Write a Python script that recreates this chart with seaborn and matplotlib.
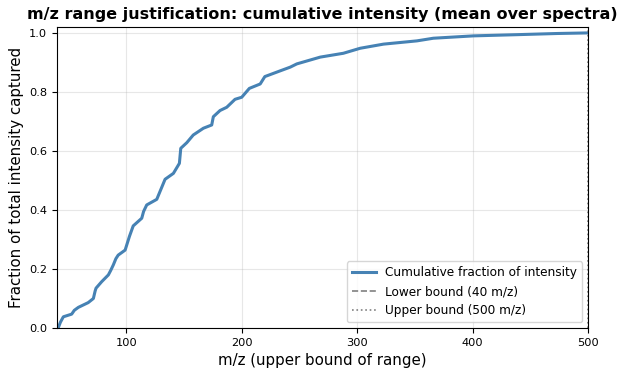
import matplotlib
matplotlib.use("Agg")
import matplotlib.pyplot as plt
import seaborn as sns
import pandas as pd

# cumulative intensity curve
mz = [40, 41, 43, 45.5, 52.7, 55, 58.5, 67, 71.5, 73, 73.8, 78.7, 84.5, 86.5, 88.8,
      91, 93, 99, 102.7, 106, 113.4, 115, 117.7, 126.4, 130, 133.6, 140.8, 146,
      147.2, 152.4, 158, 166.8, 174, 175.4, 181.2, 187, 194.2, 200, 206.6, 216,
      220, 233, 242, 247.7, 268, 288, 302.6, 322.8, 351.7, 366, 400.8, 438, 473, 500]
frac = [0.0, 0.0, 0.02, 0.038, 0.047, 0.06, 0.07, 0.086, 0.10, 0.125, 0.135, 0.157,
        0.18, 0.195, 0.214, 0.235, 0.247, 0.264, 0.31, 0.346, 0.372, 0.395, 0.417,
        0.436, 0.47, 0.504, 0.524, 0.558, 0.609, 0.628, 0.654, 0.677, 0.688, 0.716,
        0.737, 0.748, 0.775, 0.782, 0.812, 0.827, 0.852, 0.871, 0.884, 0.895, 0.918,
        0.931, 0.948, 0.962, 0.973, 0.982, 0.990, 0.994, 0.998, 1.0]
lower_bound = 40
upper_bound = 500


def main():
    df = pd.DataFrame({"mz": mz, "frac": frac})

    fig, ax = plt.subplots(figsize=(6.23, 3.7), dpi=100)
    fig.subplots_adjust(left=0.0915, right=0.944, bottom=0.1135, top=0.927)

    sns.lineplot(x="mz", y="frac", data=df, ax=ax, color="#4682b4", linewidth=2.2,
                 label="Cumulative fraction of intensity")
    ax.axvline(lower_bound, color="gray", linestyle="--", linewidth=1.2,
               label=f"Lower bound ({lower_bound} m/z)")
    ax.axvline(upper_bound, color="gray", linestyle=":", linewidth=1.2,
               label=f"Upper bound ({upper_bound} m/z)")

    ax.set_xlim(lower_bound, upper_bound)
    ax.set_ylim(0, 1.02)
    ax.grid(True, alpha=0.3)
    ax.set_title("m/z range justification: cumulative intensity (mean over spectra)",
                 fontsize=11.5, fontweight="bold")
    ax.set_xlabel("m/z (upper bound of range)", fontsize=10.8)
    ax.set_ylabel("Fraction of total intensity captured", fontsize=10.8)
    ax.tick_params(labelsize=8.2)
    ax.legend(loc="lower right", fontsize=8.7)

    plt.savefig("out.png")


if __name__ == "__main__":
    main()
